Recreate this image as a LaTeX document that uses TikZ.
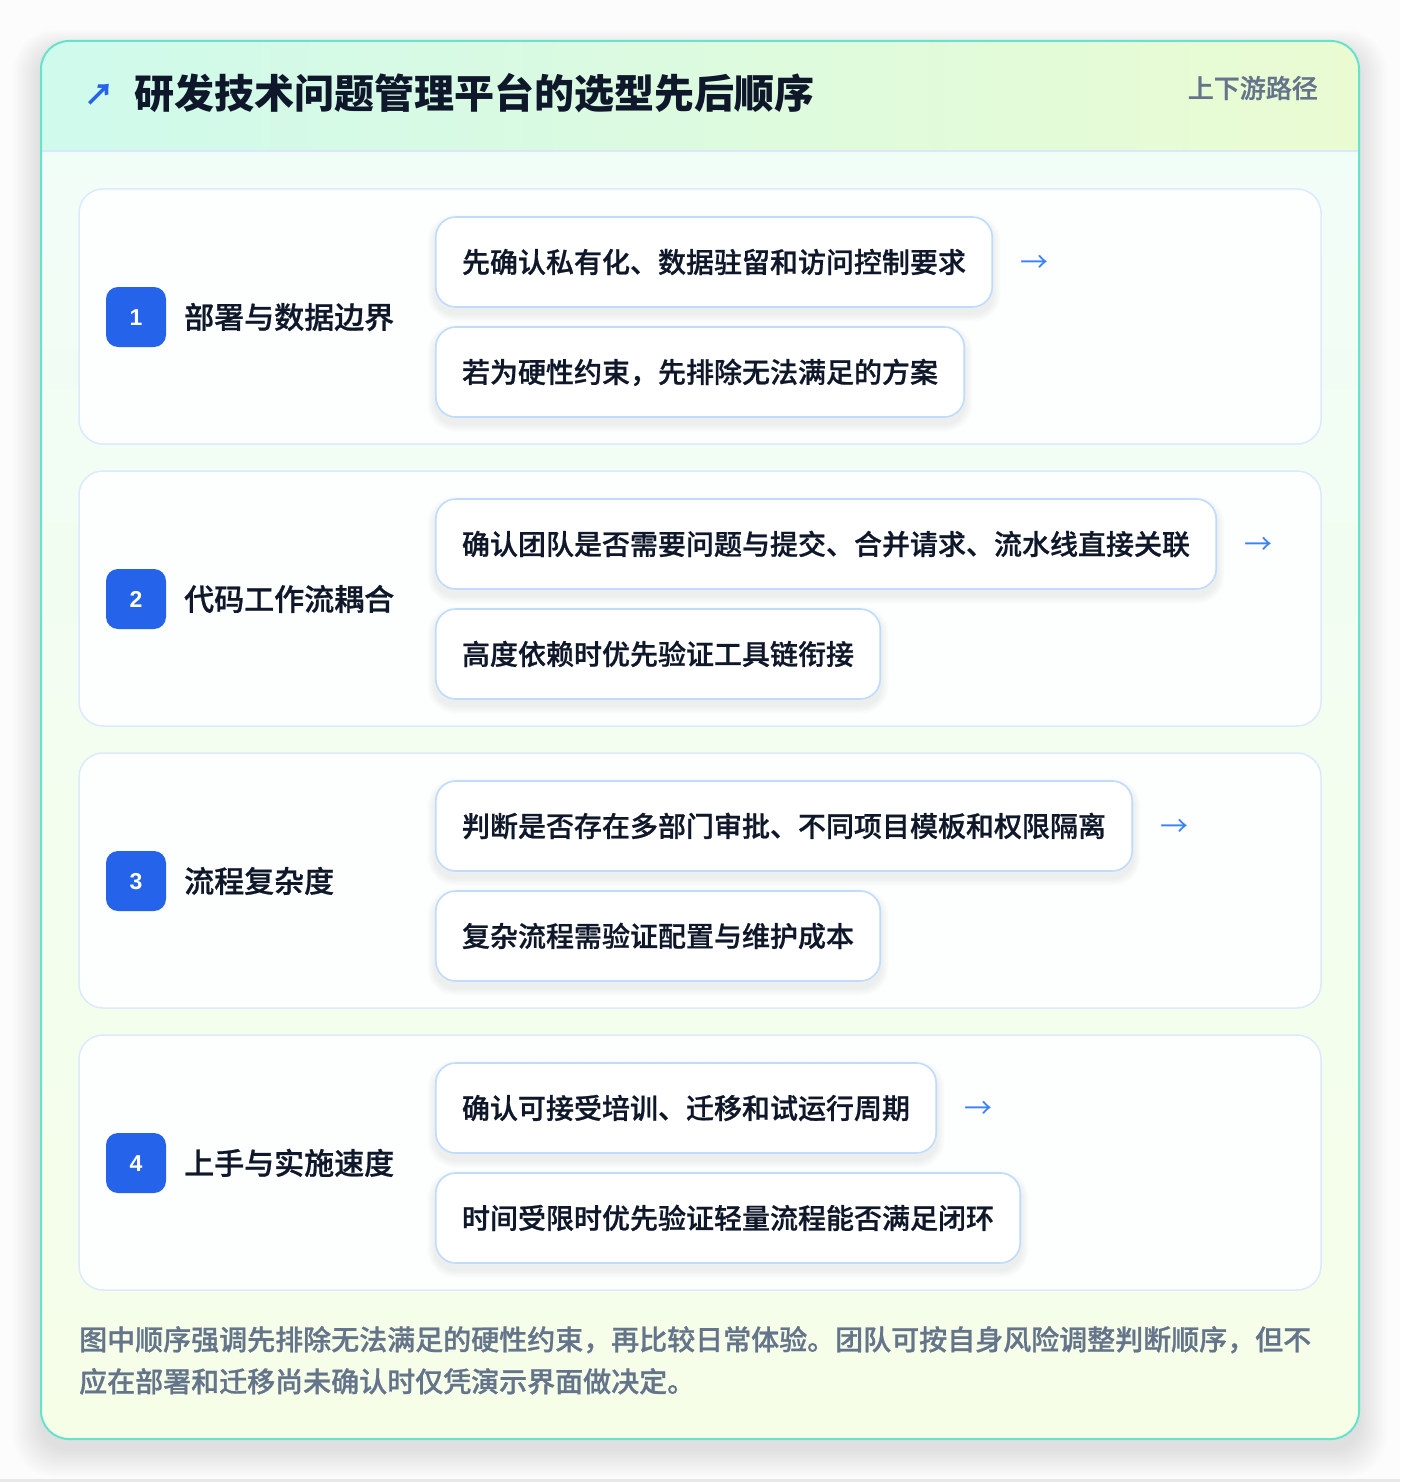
\documentclass[tikz,border=0pt]{standalone}
\usepackage{fontspec}
\setmainfont{Noto Sans CJK SC}
\IfFontExistsTF{Noto Sans CJK SC Medium}
  {\newfontfamily\medfont{Noto Sans CJK SC Medium}[FakeBold=0.8]}
  {\newfontfamily\medfont{Noto Sans CJK SC}[FakeBold=2]}
\newfontfamily\numfont{Liberation Sans}
\pgfdeclarelayer{back}
\pgfdeclarelayer{cards}
\pgfdeclarelayer{shadows}
\pgfsetlayers{back,cards,shadows,main}
\definecolor{pagebg}{HTML}{FCFCFC}
\definecolor{tealborder}{HTML}{66E3CC}
\definecolor{hdrL}{HTML}{CFFAEC}
\definecolor{hdrR}{HTML}{EAFBD2}
\definecolor{bodytop}{HTML}{F0FDF8}
\definecolor{bodybot}{HTML}{F6FEE8}
\definecolor{cardborder}{HTML}{DBEAFE}
\definecolor{cardfill}{HTML}{FDFEFE}
\definecolor{itemborder}{HTML}{BFDBFE}
\definecolor{darktext}{HTML}{0F172A}
\definecolor{graytext}{HTML}{64748B}
\definecolor{badgeblue}{HTML}{2563EB}
\definecolor{arrowblue}{HTML}{3B82F6}
\definecolor{hdrline}{HTML}{DCE8FA}
\tikzset{
  stagecard/.style={draw=cardborder, line width=1.5pt, fill=cardfill, rounded corners=24pt,
    minimum width=1242pt, minimum height=255pt, inner sep=0pt},
  badge/.style={fill=badgeblue, rounded corners=12pt, minimum size=60pt, inner sep=0pt,
    text=white, font=\numfont\bfseries\fontsize{23}{23}\selectfont, text height=16.5pt, text depth=0pt},
  stagelabel/.style={anchor=west, text=darktext, inner sep=0pt,
    font=\medfont\fontsize{30}{30}\selectfont, text height=26.4pt, text depth=3.6pt},
  itembox/.style={anchor=west, draw=itemborder, line width=1.6pt, fill=white, rounded corners=20pt,
    minimum height=90pt, inner xsep=26.2pt, inner ysep=0pt, text=darktext,
    font=\medfont\fontsize{28}{28}\selectfont, text height=24.64pt, text depth=3.36pt},
  arrowtxt/.style={anchor=west, text=arrowblue, inner sep=0pt,
    font=\fontsize{28}{28}\selectfont, text height=24.64pt, text depth=3.36pt},
  notetxt/.style={anchor=base west, inner sep=0pt, text=graytext, font=\medfont\fontsize{28}{42}\selectfont}
}
\newcommand\boxshadow[1]{%
  \begin{pgfonlayer}{shadows}
  \foreach \k in {1,...,8} {
    \fill[black, opacity=0.008, rounded corners=20pt+\k pt]
      ([shift={(-\k,-\k+6)}]#1.north west) rectangle ([shift={(\k,\k+6)}]#1.south east);
  }
  \end{pgfonlayer}}
\newcommand\stage[5]{%
  \begin{pgfonlayer}{cards}
  \node[stagecard] (card#1) at (700,#2+127.5) {};
  \end{pgfonlayer}
  \node[badge] (badge#1) at (136,#2+128) {#1};
  \node[stagelabel] (label#1) at (184,#2+128) {#3};
  \node[itembox] (itemA#1) at (435,#2+73) {#4};
  \node[itembox] (itemB#1) at (435,#2+183) {#5};
  \node[arrowtxt] (arrow#1) at ([xshift=27pt]itemA#1.east) {→};
  \boxshadow{itemA#1}
  \boxshadow{itemB#1}
}
\begin{document}
\begin{tikzpicture}[x=1pt,y=-1pt]
\useasboundingbox (0,0) rectangle (1400,1482);
\begin{pgfonlayer}{back}
\fill[pagebg] (0,0) rectangle (1400,1482);
\fill[black!9] (0,1479) rectangle (1400,1482);
% soft shadow of outer card
\foreach \k in {1,...,14} {
  \fill[black, opacity=0.007, rounded corners=28pt+\k pt] (41-2*\k,41+10-1.5*\k) rectangle (1359+2*\k,1439+10+2*\k);
}
\shade[top color=bodytop, bottom color=bodybot, rounded corners=28pt] (41,41) rectangle (1359,1439);
\begin{scope}
  \clip[rounded corners=28pt] (41,41) rectangle (1359,1439);
  \shade[left color=hdrL, right color=hdrR] (41,41) rectangle (1359,151);
  \draw[hdrline, line width=1.5pt] (41,151) -- (1359,151);
\end{scope}
\draw[tealborder, line width=2pt, rounded corners=28pt] (41,41) rectangle (1359,1439);
\end{pgfonlayer}
% header
\node[anchor=west, inner sep=0pt, text=badgeblue, font=\bfseries\fontsize{30}{30}\selectfont, text height=26pt, text depth=3pt] (icon) at (84,94) {↗};
\node[anchor=west, inner sep=0pt, text=darktext, font=\bfseries\fontsize{40}{40}\selectfont, text height=35.2pt, text depth=4.8pt] (title) at (134,93) {研发技术问题管理平台的选型先后顺序};
\node[anchor=east, inner sep=0pt, text=graytext, font=\medfont\fontsize{26}{26}\selectfont, text height=22.9pt, text depth=3.1pt] (tag) at (1318,88) {上下游路径};
% stages
\stage{1}{189}{部署与数据边界}{先确认私有化、数据驻留和访问控制要求}{若为硬性约束，先排除无法满足的方案}
\stage{2}{471}{代码工作流耦合}{确认团队是否需要问题与提交、合并请求、流水线直接关联}{高度依赖时优先验证工具链衔接}
\stage{3}{753}{流程复杂度}{判断是否存在多部门审批、不同项目模板和权限隔离}{复杂流程需验证配置与维护成本}
\stage{4}{1035}{上手与实施速度}{确认可接受培训、迁移和试运行周期}{时间受限时优先验证轻量流程能否满足闭环}
% footer note
\node[notetxt] (note1) at (79,1350) {图中顺序强调先排除无法满足的硬性约束，再比较日常体验。团队可按自身风险调整判断顺序，但不};
\node[notetxt] (note2) at (79,1392) {应在部署和迁移尚未确认时仅凭演示界面做决定。};
\end{tikzpicture}
\end{document}
